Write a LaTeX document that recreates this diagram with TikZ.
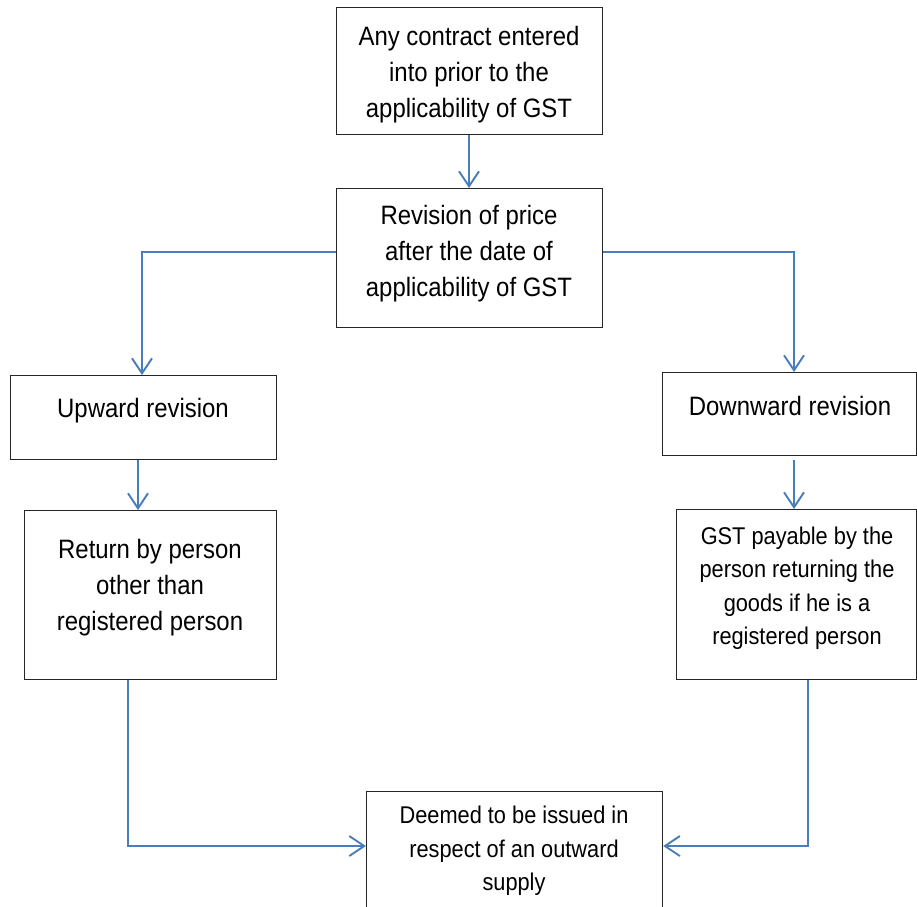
\documentclass[tikz,border=0pt]{standalone}
\usepackage{fontspec}
\setmainfont{Liberation Sans}[FakeStretch=0.9]
\usetikzlibrary{arrows.meta}
\definecolor{conn}{HTML}{4A7EBB}
\tikzset{
  box/.style={draw=black!85, line width=1.2pt, rectangle, inner sep=0pt},
  txt/.style={align=center, inner sep=0pt},
  big/.style={font=\fontsize{26.6}{36}\selectfont},
  small/.style={font=\fontsize{24.2}{33.5}\selectfont},
  conn/.style={draw=conn, line width=1.9pt},
  arr/.style={conn, -{Straight Barb[length=15pt,width=20pt,line width=1.9pt]}},
}
\newcommand{\mybox}[5]{\node[box, minimum width=#3-#1, minimum height=#4-#2, anchor=north west] (#5) at (#1,#2) {};}
\begin{document}
\begin{tikzpicture}[x=1pt,y=-1pt]
\useasboundingbox (0,0) rectangle (917,906);
\fill[white] (0,0) rectangle (917,906);
% boxes
\mybox{336}{7}{602}{134}{contract}
\mybox{336}{188}{602}{327}{revision}
\mybox{10}{375}{276}{459}{upward}
\mybox{662}{372}{916}{455}{downward}
\mybox{24}{510}{276}{679}{return}
\mybox{676}{509}{916}{679}{gst}
\begin{scope}
\clip (0,0) rectangle (917,906);
\mybox{366}{791}{662}{940}{deemed}
\end{scope}
% texts
\node[txt,big] (t1) at (469,74.5) {Any contract entered\\into prior to the\\applicability of GST};
\node[txt,big] (t2) at (469,254) {Revision of price\\after the date of\\applicability of GST};
\node[txt,big] (t3) at (143,410.5) {Upward revision};
\node[txt,big] (t4) at (790,405.5) {Downward revision};
\node[txt,big] (t5) at (150,587.5) {Return by person\\other than\\registered person};
\node[txt,small] (t6) at (797,588) {GST payable by the\\person returning the\\goods if he is a\\registered person};
\node[txt,small] (t7) at (514,851) {Deemed to be issued in\\respect of an outward\\supply};
% connector coordinates
\coordinate (cx) at (469,0);
\coordinate (lc) at (142,252);
\coordinate (rc) at (794,252);
\coordinate (ux) at (138,0);
\coordinate (dx) at (794,0);
\coordinate (ds) at (794,460);
\coordinate (lb) at (128,846);
\coordinate (rb) at (808,846);
% connectors
\draw[arr] (contract.south -| cx) -- (revision.north -| cx);
\draw[arr] (revision.west |- lc) -- (lc) -- (upward.north -| lc);
\draw[arr] (revision.east |- rc) -- (rc) -- (downward.north -| rc);
\draw[arr] (upward.south -| ux) -- (return.north -| ux);
\draw[arr] (ds) -- (gst.north -| dx);
\draw[arr] (return.south -| lb) -- (lb) -- (deemed.west |- lb);
\draw[arr] (gst.south -| rb) -- (rb) -- (deemed.east |- rb);
\end{tikzpicture}
\end{document}
